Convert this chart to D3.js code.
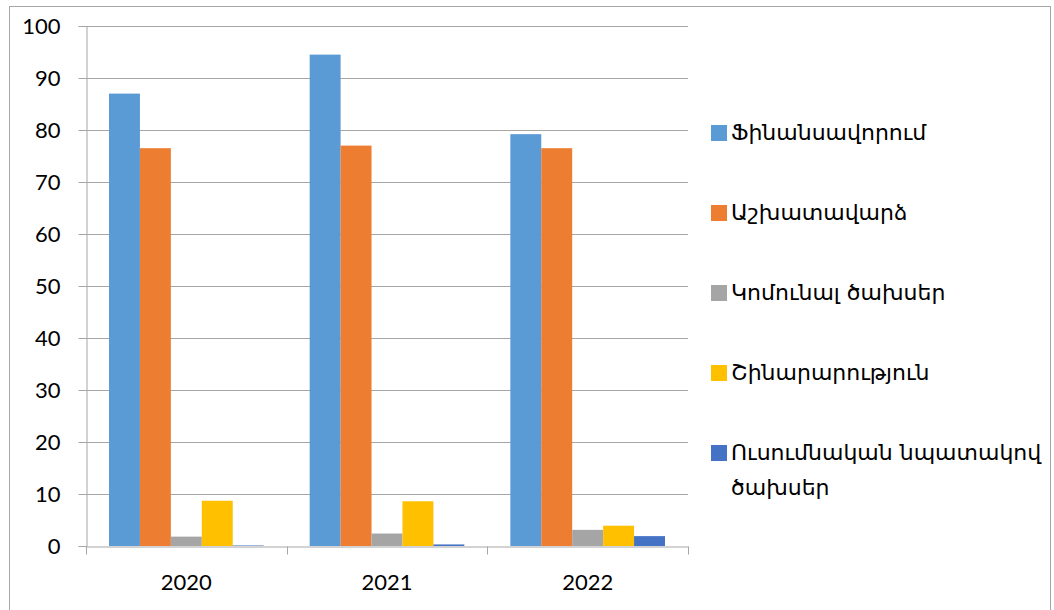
<!DOCTYPE html>
<html lang="hy">
<head>
<meta charset="UTF-8" />
<title>Chart</title>
<style>
  body { margin: 0; background: #fff; }
  svg text { font-family: "DejaVu Sans", "Noto Sans", sans-serif; fill: #000; }
</style>
</head>
<body>
<div id="chart"></div>
<script src="https://d3js.org/d3.v7.min.js"></script>
<script>
const years = ["2020", "2021", "2022"];
const seriesNames = [
  "Ֆինանսավորում",
  "Աշխատավարձ",
  "Կոմունալ ծախսեր",
  "Շինարարություն",
  "Ուսումնական նպատակով ծախսեր"
];
const financing = [87, 94.5, 79.2];
const salary = [76.5, 77, 76.5];
const utilities = [1.8, 2.4, 3.1];
const construction = [8.7, 8.6, 3.9];
const education = [0.1, 0.3, 1.9];
const colors = ["#5b9bd5", "#ed7d31", "#a5a5a5", "#ffc000", "#4472c4"];
const yTicks = [0, 10, 20, 30, 40, 50, 60, 70, 80, 90, 100];

const allSeries = [financing, salary, utilities, construction, education];

const width = 1054, height = 610;
const svg = d3.select("#chart").append("svg")
  .attr("width", width).attr("height", height);

// outer frame
svg.append("rect")
  .attr("x", 9.5).attr("y", 6.5)
  .attr("width", 1041).attr("height", 620)
  .attr("fill", "none").attr("stroke", "#a6a6a6");

const plotLeft = 86, plotRight = 688, plotTop = 26, plotBottom = 546;

const x = d3.scaleBand().domain(years).range([plotLeft, plotRight]).paddingInner(0).paddingOuter(0);
const inner = d3.scaleBand().domain(d3.range(5)).range([23, x.bandwidth() - 23]);
const y = d3.scaleLinear().domain([0, 100]).range([plotBottom, plotTop]);

// grid
svg.append("g").selectAll("line").data(yTicks.slice(1)).join("line")
  .attr("x1", plotLeft).attr("x2", plotRight)
  .attr("y1", d => Math.round(y(d)) + 0.5).attr("y2", d => Math.round(y(d)) + 0.5)
  .attr("stroke", "#a6a6a6");

// bars
allSeries.forEach((vals, si) => {
  svg.append("g").selectAll("rect").data(vals).join("rect")
    .attr("x", (d, i) => x(years[i]) + inner(si))
    .attr("width", inner.bandwidth())
    .attr("y", d => y(d))
    .attr("height", d => y(0) - y(d))
    .attr("fill", colors[si]);
});

const numFont = "Lato, 'DejaVu Sans', sans-serif";

// y axis
const yAxis = d3.axisLeft(y).tickValues(yTicks).tickSize(8).tickPadding(18);
const gy = svg.append("g").attr("transform", `translate(${plotLeft + 0.5},0)`).call(yAxis);
gy.select(".domain").attr("stroke", "#a6a6a6");
gy.selectAll(".tick line").attr("stroke", "#a6a6a6");
gy.selectAll(".tick text").attr("font-size", 22).style("font-family", numFont);

// x axis
const xAxis = d3.axisBottom(x).tickSize(0).tickPadding(0);
const gx = svg.append("g").attr("transform", `translate(0,${plotBottom + 0.5})`).call(xAxis);
gx.select(".domain").attr("stroke", "#a6a6a6");
gx.selectAll(".tick text")
  .attr("font-size", 22).style("font-family", numFont)
  .attr("dy", null).attr("y", 43);
gx.selectAll("line.sep").data([...years.map(d => x(d)), plotRight]).join("line")
  .attr("class", "sep")
  .attr("x1", d => Math.round(d) + 0.5).attr("x2", d => Math.round(d) + 0.5)
  .attr("y1", 0).attr("y2", 8)
  .attr("stroke", "#a6a6a6");

// legend
const legend = svg.append("g");
const lines = [["Ֆինանսավորում"], ["Աշխատավարձ"], ["Կոմունալ ծախսեր"], ["Շինարարություն"], ["Ուսումնական նպատակով", "ծախսեր"]];
seriesNames.forEach((name, i) => {
  const cy = 133 + i * 80;
  legend.append("rect")
    .attr("x", 711).attr("y", cy - 8)
    .attr("width", 16).attr("height", 16)
    .attr("fill", colors[i]);
  const t = legend.append("text")
    .attr("x", 731).attr("y", cy + 7)
    .attr("font-size", 22);
  lines[i].forEach((ln, j) => {
    t.append("tspan").attr("x", 731).attr("dy", j === 0 ? 0 : 35).text(ln);
  });
});
</script>
</body>
</html>
